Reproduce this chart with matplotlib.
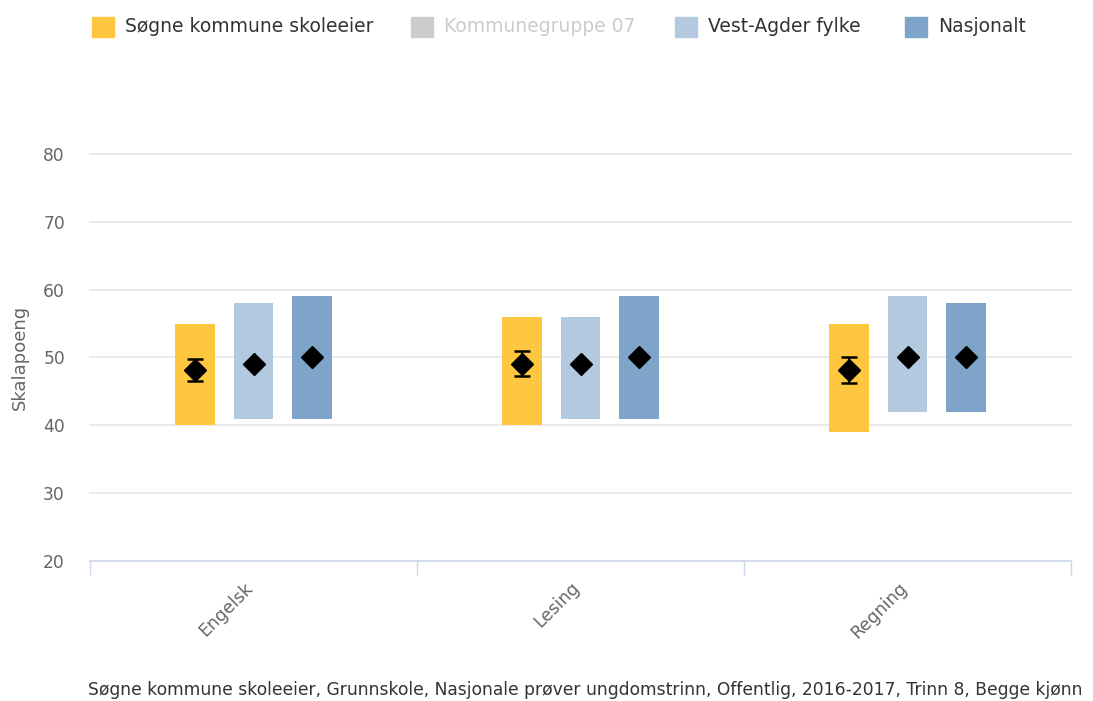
import matplotlib.pyplot as plt
import matplotlib.patches as mpatches
import numpy as np

# data
categories = ['Engelsk', 'Lesing', 'Regning']
series = ['Søgne kommune skoleeier', 'Kommunegruppe 07', 'Vest-Agder fylke', 'Nasjonalt']
colors = ['#ffc740', '#cccccc', '#b3c9df', '#7fa4c9']
visible = [True, False, True, True]

low = {
    'Søgne kommune skoleeier': [40, 40, 39],
    'Vest-Agder fylke': [41, 41, 42],
    'Nasjonalt': [41, 41, 42],
}
high = {
    'Søgne kommune skoleeier': [55, 56, 55],
    'Vest-Agder fylke': [58, 56, 59],
    'Nasjonalt': [59, 59, 58],
}
mean = {
    'Søgne kommune skoleeier': [48.2, 49.0, 48.2],
    'Vest-Agder fylke': [49.0, 49.0, 50.0],
    'Nasjonalt': [50.0, 50.0, 50.0],
}
err_low = [46.5, 47.2, 46.3]
err_high = [49.8, 51.0, 50.1]

footer = 'Søgne kommune skoleeier, Grunnskole, Nasjonale prøver ungdomstrinn, Offentlig, 2016-2017, Trinn 8, Begge kjønn'

plt.rcParams['font.family'] = ['DejaVu Sans']

fig = plt.figure(figsize=(10.93, 7.01), dpi=100)
ax = fig.add_axes([90 / 1093, 1 - 561 / 701, (1071 - 90) / 1093, (561 - 154) / 701])

x = np.arange(len(categories))
shown = [s for s, v in zip(series, visible) if v]
step = 0.18
width = 0.122
for i, s in enumerate(shown):
    c = colors[series.index(s)]
    xs = x + (i - 1) * step
    lo = np.array(low[s])
    hi = np.array(high[s])
    ax.bar(xs, hi - lo, bottom=lo, width=width, color=c, zorder=2)
    ax.plot(xs, mean[s], 'D', color='black', markersize=11, zorder=4)
    if s == 'Søgne kommune skoleeier':
        m = np.array(mean[s])
        ax.errorbar(xs, m, yerr=[m - np.array(err_low), np.array(err_high) - m],
                    fmt='none', ecolor='black', elinewidth=1.5, capsize=5.5,
                    capthick=1.8, zorder=3)

ax.set_xlim(-0.5, 2.5)
ax.set_ylim(20, 80)
ax.set_yticks(range(20, 81, 10))
ax.yaxis.grid(True, color='#e6e6e6', linewidth=1.2, zorder=0)
for gl in ax.get_ygridlines():
    gl.set_clip_on(False)
ax.set_axisbelow(True)
for sp in ['top', 'right', 'left']:
    ax.spines[sp].set_visible(False)
ax.spines['bottom'].set_color('#ccd6eb')
ax.spines['bottom'].set_linewidth(1.2)
ax.tick_params(axis='y', length=0, labelsize=12.3, labelcolor='#666666', pad=18)

ax.set_xticks([-0.5, 0.5, 1.5, 2.5], minor=False)
ax.set_xticklabels([])
ax.tick_params(axis='x', which='major', length=10, color='#ccd6eb', width=1)
ax.set_xticks(x, minor=True)
ax.set_xticklabels(categories, minor=True, rotation=45, ha='right', va='baseline',
                   rotation_mode='anchor', color='#666666', fontsize=12.5)
ax.tick_params(axis='x', which='minor', length=0, pad=20)

ax.set_ylabel('Skalapoeng', color='#666666', fontsize=13, va='center')
ax.yaxis.set_label_coords(-70 / 981, 0.5)

# legend drawn by hand across the top
leg_x = [92, 411, 675, 905]
for s, c, v, lx in zip(series, colors, visible, leg_x):
    fig.patches.append(mpatches.Rectangle((lx / 1093, 1 - 37 / 701), 22 / 1093, 20 / 701,
                                          transform=fig.transFigure, color=c))
    fig.text((lx + 33) / 1093, 1 - 27 / 701, s, fontsize=13.5,
             color='#333333' if v else '#cccccc', va='center', ha='left')

fig.text(88 / 1093, 1 - 690 / 701, footer, fontsize=12.3, color='#333333', va='center', ha='left')

fig.savefig('out.png', dpi=100)
